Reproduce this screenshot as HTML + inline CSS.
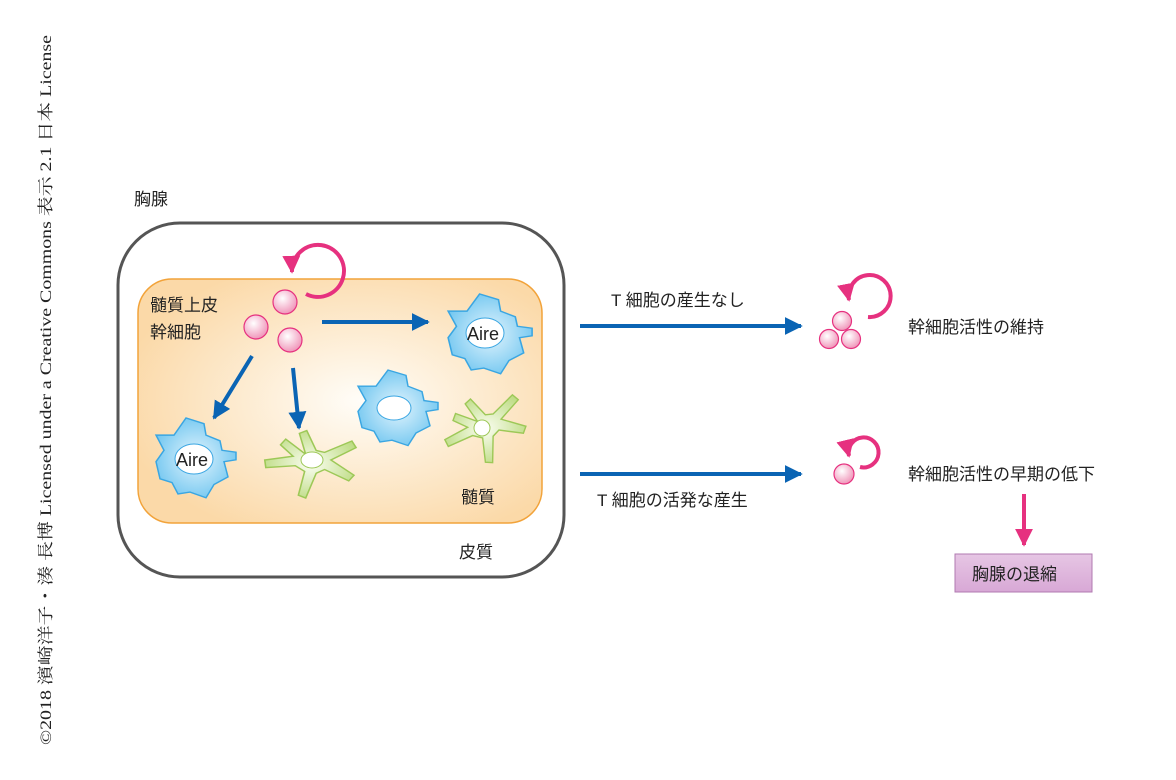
<!DOCTYPE html>
<html><head><meta charset="utf-8"><style>
body{margin:0;background:#fff}
svg{display:block}
text{font-family:"Liberation Sans","Noto Sans CJK JP",sans-serif;fill:#222}
</style></head><body>
<svg width="1176" height="780" viewBox="0 0 1176 780" xmlns="http://www.w3.org/2000/svg">
<defs>
<radialGradient id="og" cx="0.55" cy="0.5" r="0.6">
<stop offset="0" stop-color="#fffdf8"/><stop offset="1" stop-color="#fbd9a8"/></radialGradient>
<radialGradient id="pk" cx="0.4" cy="0.35" r="0.7">
<stop offset="0" stop-color="#fff"/><stop offset="1" stop-color="#ef8fb5"/></radialGradient>
<radialGradient id="bl" cx="0.5" cy="0.5" r="0.6">
<stop offset="0" stop-color="#e2f4fd"/><stop offset="1" stop-color="#69c3ef"/></radialGradient>
<radialGradient id="gr" cx="0.5" cy="0.5" r="0.6">
<stop offset="0" stop-color="#fbfdf2"/><stop offset="1" stop-color="#b8d97a"/></radialGradient>
<linearGradient id="pu" x1="0" y1="0" x2="0" y2="1">
<stop offset="0" stop-color="#e6c6e4"/><stop offset="1" stop-color="#d8a8d6"/></linearGradient>
<path id="blob" d="M-38,-22 L-20,-22 L-8,-40 L10,-34 L12,-22 L26,-16 L28,-6 L42,-4 L42,4 L30,6 L34,22 L20,30 L12,44 L-4,38 L-16,40 L-22,28 L-34,24 L-38,6 L-30,-6 Z"/>
<path id="star" d="M-6,-6 L-12,-28 L-5,-31 L4,-10 L12,-8 L38,-20 L42,-13 L18,0 L40,16 L35,22 L12,10 L4,14 L-6,40 L-13,37 L-7,12 L-16,6 L-44,8 L-45,0 L-18,-4 L-30,-16 L-25,-22 Z"/>
<marker id="ab" viewBox="0 0 10 10" refX="9" refY="5" markerWidth="4.5" markerHeight="4.5" orient="auto"><path d="M0,0L10,5L0,10Z" fill="#0a64b4"/></marker>
<marker id="ap" viewBox="0 0 10 10" refX="9" refY="5" markerWidth="4.5" markerHeight="4.5" orient="auto"><path d="M0,0L10,5L0,10Z" fill="#e6317f"/></marker>
</defs>

<text transform="translate(51,745) rotate(-90)" font-size="16" textLength="710" lengthAdjust="spacingAndGlyphs" style="font-family:'Liberation Serif','Noto Serif CJK SC',serif">©2018 濱崎洋子・湊 長博 Licensed under a Creative Commons 表示 2.1 日本 License</text>

<text x="134" y="205" font-size="17">胸腺</text>
<rect x="118" y="223" width="446" height="354" rx="62" fill="#fff" stroke="#555" stroke-width="3"/>
<rect x="138" y="279" width="404" height="244" rx="34" fill="url(#og)" stroke="#f2a33a" stroke-width="1.5"/>
<text x="459" y="558" font-size="17">皮質</text>
<text x="461" y="503" font-size="17">髄質</text>
<text x="150" y="311" font-size="17">髄質上皮</text>
<text x="150" y="338" font-size="17">幹細胞</text>

<path d="M306,294 A26,26 0 1 0 292,272" fill="none" stroke="#e6317f" stroke-width="4" marker-end="url(#ap)"/>
<g fill="url(#pk)" stroke="#e6317f" stroke-width="1.2">
<circle cx="285" cy="302" r="12"/><circle cx="256" cy="327" r="12"/><circle cx="290" cy="340" r="12"/></g>

<g stroke="#0a64b4" stroke-width="4" fill="none">
<line x1="322" y1="322" x2="428" y2="322" marker-end="url(#ab)"/>
<line x1="252" y1="356" x2="214" y2="418" marker-end="url(#ab)"/>
<line x1="293" y1="368" x2="299" y2="428" marker-end="url(#ab)"/>
</g>

<g fill="url(#bl)" stroke="#3aa6e2" stroke-width="1.5">
<use href="#blob" transform="translate(488,332) scale(1.05,0.95)"/>
<use href="#blob" transform="translate(194,456) scale(1.0,0.95)"/>
<use href="#blob" transform="translate(396,406) scale(1.0,0.9)"/>
</g>
<g fill="#fff" stroke="#3aa6e2" stroke-width="1">
<ellipse cx="485" cy="333" rx="19" ry="15"/>
<ellipse cx="194" cy="459" rx="19" ry="15"/>
<ellipse cx="394" cy="408" rx="17" ry="12"/>
</g>
<text x="467" y="340" font-size="18">Aire</text>
<text x="176" y="466" font-size="18">Aire</text>

<g fill="url(#gr)" stroke="#9dc857" stroke-width="1.5">
<use href="#star" transform="translate(312,460) scale(1.05,0.95)"/>
<use href="#star" transform="translate(485,425) rotate(-20) scale(0.95,0.95)"/>
</g>
<g fill="#fff" stroke="#9dc857"><ellipse cx="312" cy="460" rx="11" ry="8"/><circle cx="482" cy="428" r="8"/></g>

<text x="611" y="306" font-size="17">T 細胞の産生なし</text>
<line x1="580" y1="326" x2="801" y2="326" stroke="#0a64b4" stroke-width="4" marker-end="url(#ab)"/>
<text x="597" y="506" font-size="17">T 細胞の活発な産生</text>
<line x1="580" y1="474" x2="801" y2="474" stroke="#0a64b4" stroke-width="4" marker-end="url(#ab)"/>

<path d="M868,317 A21,21 0 1 0 849,300" fill="none" stroke="#e6317f" stroke-width="4" marker-end="url(#ap)"/>
<g fill="url(#pk)" stroke="#e6317f" stroke-width="1.2">
<circle cx="842" cy="321" r="9.5"/><circle cx="829" cy="339" r="9.5"/><circle cx="851" cy="339" r="9.5"/></g>
<text x="908" y="333" font-size="17">幹細胞活性の維持</text>

<path d="M860,467 A15,15 0 1 0 849,456" fill="none" stroke="#e6317f" stroke-width="4" marker-end="url(#ap)"/>
<circle cx="844" cy="474" r="10" fill="url(#pk)" stroke="#e6317f" stroke-width="1.2"/>
<text x="908" y="480" font-size="17">幹細胞活性の早期の低下</text>

<line x1="1024" y1="494" x2="1024" y2="545" stroke="#e6317f" stroke-width="4" marker-end="url(#ap)"/>
<rect x="955" y="554" width="137" height="38" fill="url(#pu)" stroke="#b07ab0" stroke-width="1"/>
<text x="972" y="580" font-size="17">胸腺の退縮</text>
</svg>
</body></html>
